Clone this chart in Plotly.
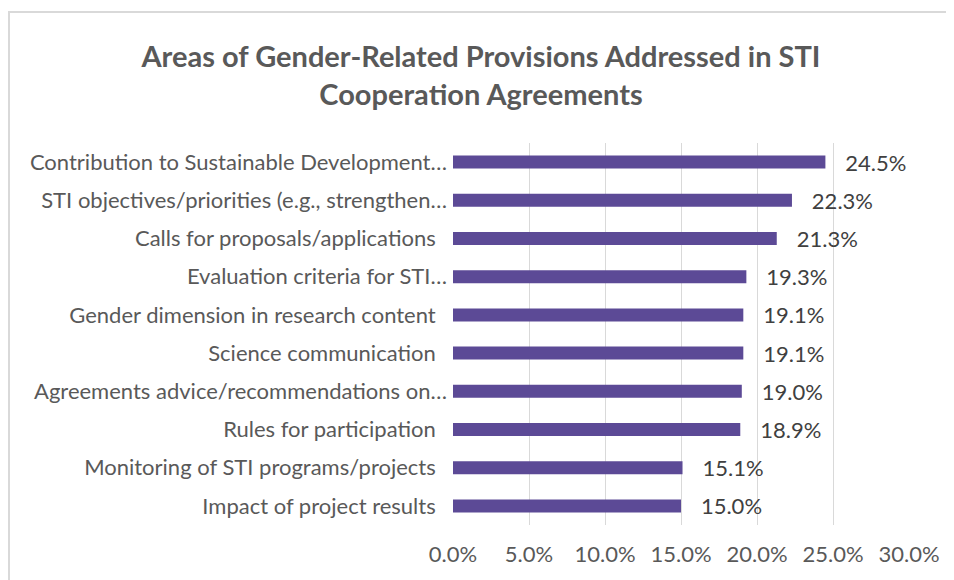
import plotly.graph_objects as go

categories = [
    "Contribution to Sustainable Development…",
    "STI objectives/priorities (e.g., strengthen…",
    "Calls for proposals/applications\u00a0\u00a0",
    "Evaluation criteria for STI…",
    "Gender dimension in research content\u00a0\u00a0",
    "Science communication\u00a0\u00a0",
    "Agreements advice/recommendations on…",
    "Rules for participation\u00a0\u00a0",
    "Monitoring of STI programs/projects\u00a0\u00a0",
    "Impact of project results\u00a0\u00a0",
]
values = [24.5, 22.3, 21.3, 19.3, 19.1, 19.1, 19.0, 18.9, 15.1, 15.0]
tick_vals = [0, 5, 10, 15, 20, 25, 30]
tick_text = ["0.0%", "5.0%", "10.0%", "15.0%", "20.0%", "25.0%", "30.0%"]
title = "Areas of Gender-Related Provisions Addressed in STI<br>Cooperation Agreements"

FONT = "Lato, Carlito, Calibri, sans-serif"
OFF = 8  # page body margin

W, H = 954 - OFF, 580 - OFF
L, R, T, B = 453 - OFF, 909 - OFF, 143 - OFF, 525 - OFF
pw, ph = R - L, B - T

fig = go.Figure(
    go.Bar(
        x=values,
        y=categories,
        orientation="h",
        marker=dict(color="#5c4a96", line=dict(width=0)),
        text=[f"\u00a0\u00a0\u00a0{v:.1f}%" for v in values],
        textposition="outside",
        constraintext="none",
        textfont=dict(family=FONT, size=22, color="#404040"),
        cliponaxis=False,
        width=0.34,
    )
)

fig.update_layout(
    width=W,
    height=H,
    margin=dict(l=L, r=W - R, t=T, b=H - B, pad=0),
    paper_bgcolor="white",
    plot_bgcolor="white",
    showlegend=False,
    title=dict(
        text=f"<b>{title}</b>",
        x=0.5,
        xanchor="center",
        y=1 - (67 - OFF) / H,
        yanchor="middle",
        font=dict(family=FONT, size=29, color="#595959"),
    ),
    xaxis=dict(
        range=[0, 30],
        tickvals=tick_vals,
        ticktext=tick_text,
        showgrid=True,
        gridcolor="#d9d9d9",
        gridwidth=1,
        zeroline=False,
        showline=False,
        ticks="",
        tickfont=dict(family=FONT, size=22, color="#595959"),
        ticklabelstandoff=14,
    ),
    yaxis=dict(
        categoryorder="array",
        categoryarray=categories[::-1],
        showgrid=False,
        zeroline=False,
        showline=False,
        ticks="",
        tickfont=dict(family=FONT, size=22, color="#595959"),
        ticklabelstandoff=5,
    ),
    shapes=[
        dict(
            type="rect",
            xref="paper",
            yref="paper",
            x0=(1 - L) / pw,
            x1=(W + 10 - L) / pw,
            y0=(B - (H + 10)) / ph,
            y1=(B - 4) / ph,
            line=dict(color="#d9d9d9", width=2),
            fillcolor="rgba(0,0,0,0)",
            layer="below",
        )
    ],
)

fig.write_html("out.html")
